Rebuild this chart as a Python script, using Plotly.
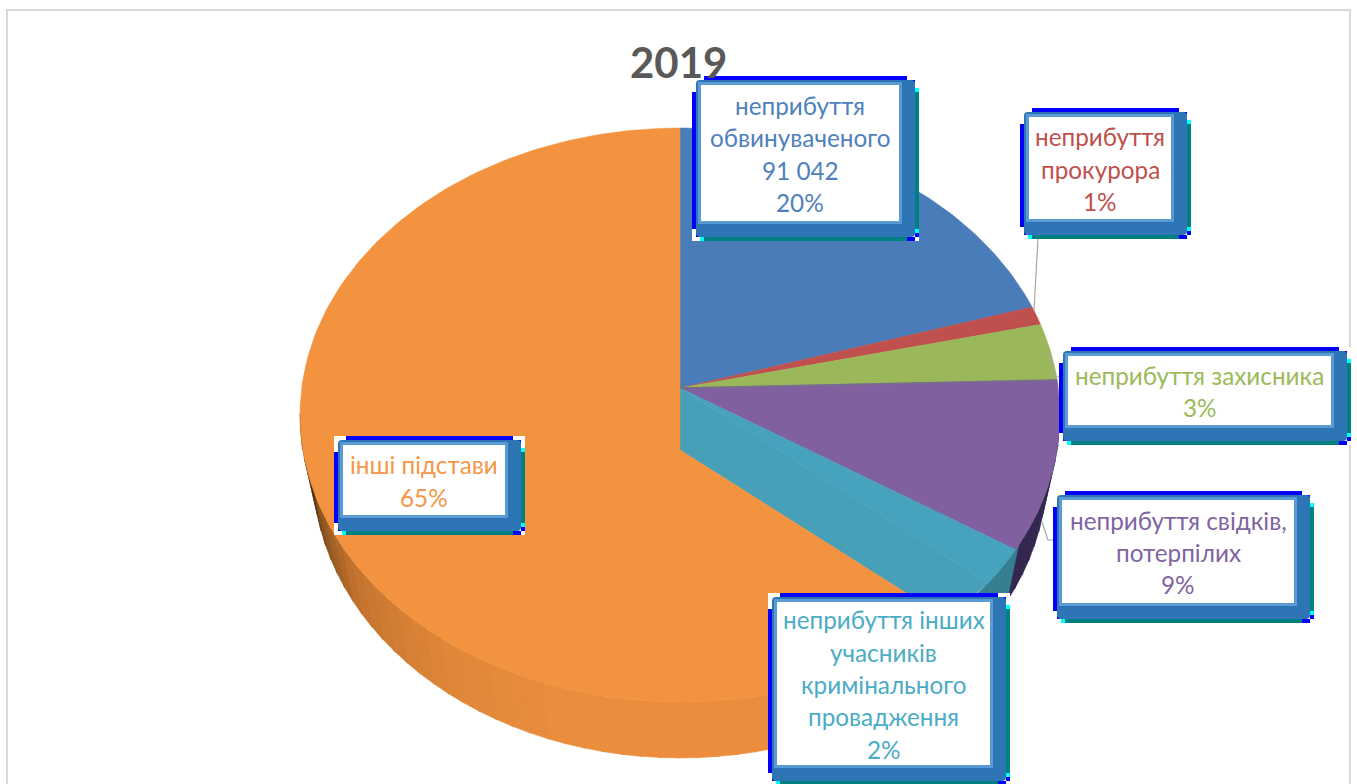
import numpy as np
import plotly.graph_objects as go

# values
title = "2019"
categories = ["неприбуття обвинуваченого", "неприбуття прокурора", "неприбуття захисника",
              "неприбуття свідків, потерпілих", "неприбуття інших учасників кримінального провадження",
              "інші підстави"]
shares = [20, 1, 3, 9, 2, 65]
accused_count = "91 042"

label_lines = [
    ["неприбуття", "обвинуваченого", accused_count],
    ["неприбуття", "прокурора"],
    ["неприбуття захисника"],
    ["неприбуття свідків,", "потерпілих"],
    ["неприбуття інших", "учасників", "кримінального", "провадження"],
    ["інші підстави"],
]

top_colors = ["#4a7cb9", "#c0504d", "#9ab85a", "#80609f", "#46a2bd", "#f3923f"]
side_colors = ["#35598a", "#8a3a38", "#6f8640", "#33264f", "#347f90", "#ea8d3d"]
text_colors = ["#4f81bd", "#c0504d", "#9bbb59", "#8064a2", "#4bacc6", "#f79646"]

# label boxes: body x0, y0, x1, y1
boxes = [(696, 80, 915, 237), (1024, 112, 1187, 235), (1063, 351, 1347, 441),
         (1057, 495, 1310, 619), (772, 597, 1006, 781), (338, 440, 521, 531)]

W, H = 1357, 784
CX, CY, RX, RY = 680, 415, 380, 287
BOTTOM_RX, DEPTH = 367, 56
APEX_Y, ORANGE_APEX_Y = 388, 450
TILT = 0.79
SKEW = np.radians(3)  # perspective pushes the right hand slices a bit clockwise
FONT = "Lato, Noto Sans, sans-serif"


def rim(theta, apex_y):
    # ray from the apex to the edge of the top ellipse, theta clockwise from 12 o'clock
    theta = theta + SKEW * np.sin(theta / 2)
    dx, dy = np.sin(theta), -np.cos(theta) * TILT
    oy = apex_y - CY
    a = (dx / RX) ** 2 + (dy / RY) ** 2
    b = 2 * oy * dy / RY ** 2
    c = (oy / RY) ** 2 - 1
    t = (-b + np.sqrt(b * b - 4 * a * c)) / (2 * a)
    return CX + t * dx, apex_y + t * dy


def slice_path(t0, t1, apex_y):
    ts = np.linspace(t0, t1, max(int((t1 - t0) * 60), 4))
    pts = [rim(t, apex_y) for t in ts]
    return [CX] + [p[0] for p in pts] + [CX], [apex_y] + [p[1] for p in pts] + [apex_y]


def add_poly(fig, x, y, color):
    fig.add_trace(go.Scatter(x=x, y=y, mode="lines", fill="toself", fillcolor=color,
                             line=dict(color=color, width=0.5), hoverinfo="skip", showlegend=False))


def phi_of(theta, apex_y):
    x, y = rim(theta, apex_y)
    return np.arctan2((y - CY) / RY, (x - CX) / RX)


def orange_shade(phi):
    deg = np.degrees(phi)
    stops = [60, 110, 130, 150, 163, 172, 180]
    reds = [238, 234, 222, 196, 140, 85, 70]
    greens = [141, 141, 134, 116, 84, 50, 40]
    blues = [61, 61, 56, 48, 30, 18, 12]
    return "rgb(%d,%d,%d)" % (np.interp(deg, stops, reds), np.interp(deg, stops, greens), np.interp(deg, stops, blues))


fig = go.Figure()

edges = np.radians(np.cumsum([0] + shares) * 3.6)

# side wall first, the top face is painted over it
phi_purple1 = phi_of(edges[4], APEX_Y)
phi_teal1 = phi_of(edges[5], ORANGE_APEX_Y)
phis = np.radians(np.arange(0, 181, 3))
for p0, p1 in zip(phis[:-1], phis[1:]):
    mid = (p0 + p1) / 2
    if mid < phi_purple1:
        color = side_colors[3]
    elif mid < phi_teal1:
        color = side_colors[4]
    else:
        color = orange_shade(mid)
    pp = np.array([p0, p1 + 0.005])
    tx = CX + RX * np.cos(pp)
    ty = CY + RY * np.sin(pp)
    bx = CX + BOTTOM_RX * np.cos(pp)
    by = CY + DEPTH + RY * np.sin(pp)
    add_poly(fig, [tx[0], tx[1], bx[1], bx[0], tx[0]], [ty[0], ty[1], by[1], by[0], ty[0]], color)

# wall between the pulled out orange slice and the rest
r0 = rim(edges[5], APEX_Y)
r1 = rim(edges[5], ORANGE_APEX_Y)
add_poly(fig, [CX, r0[0], r1[0], CX, CX], [APEX_Y, r0[1], r1[1], ORANGE_APEX_Y, APEX_Y], "#479fb8")

for i in range(5):
    x, y = slice_path(edges[i], edges[i + 1], APEX_Y)
    add_poly(fig, x, y, top_colors[i])
x, y = slice_path(edges[5], edges[6], ORANGE_APEX_Y)
add_poly(fig, x, y, top_colors[5])

# line under the green slice
gx, gy = rim(edges[3], APEX_Y)
fig.add_trace(go.Scatter(x=[CX, gx], y=[APEX_Y, gy], mode="lines", line=dict(color="#77708a", width=1.5),
                         hoverinfo="skip", showlegend=False))

shapes = []


def rect(x0, y0, x1, y1, color):
    shapes.append(dict(type="rect", x0=x0, y0=y0, x1=x1, y1=y1, fillcolor=color, line=dict(width=0)))


# grey frame of the chart area
shapes.append(dict(type="rect", x0=7, y0=10, x1=1350, y1=H + 20, line=dict(color="#d9d9d9", width=2)))

# leader lines
for pts in ["M 1038 238 L 1034 310", "M 1048 352 L 1055 377 L 1064 377", "M 1042 522 L 1048 540 L 1058 540"]:
    shapes.append(dict(type="path", path=pts, line=dict(color="#a6a6a6", width=1.2)))

BLUE, TEAL, CYAN = "#0000ff", "#008080", "#00ffff"
for x0, y0, x1, y1 in boxes:
    rect(x0 - 4, y0 - 4, x1 + 4, y1 + 4, "white")
    rect(x0 + 8, y0 - 4, x1 - 8, y0, BLUE)
    rect(x0 - 4, y0 + 12, x0, y1 - 8, BLUE)
    rect(x1, y0 + 12, x1 + 4, y1 - 8, TEAL)
    rect(x0 + 8, y1, x1 - 8, y1 + 4, TEAL)
    # stair pixels on the corners
    rect(x1 - 8, y0, x1 + 0, y0 + 4, BLUE)
    rect(x1, y0 + 8, x1 + 4, y0 + 12, CYAN)
    rect(x1, y1 - 8, x1 + 4, y1 - 4, CYAN)
    rect(x1, y1 - 4, x1 + 4, y1, BLUE)
    rect(x1 - 8, y1, x1, y1 + 4, BLUE)
    rect(x0, y1 - 4, x0 + 4, y1, BLUE)
    rect(x0 + 4, y1, x0 + 8, y1 + 4, CYAN)
    r = 4
    body = (f"M {x0+r} {y0} L {x1-r} {y0} Q {x1} {y0} {x1} {y0+r} L {x1} {y1-r} Q {x1} {y1} {x1-r} {y1} "
            f"L {x0+r} {y1} Q {x0} {y1} {x0} {y1-r} L {x0} {y0+r} Q {x0} {y0} {x0+r} {y0} Z")
    shapes.append(dict(type="path", path=body, fillcolor="#2e75b6", line=dict(width=0)))
    rect(x0 + 2, y0 + 2, x1 - 13, y1 - 13, "#5b9bd5")
    rect(x0 + 5, y0 + 5, x1 - 16, y1 - 16, "white")

annotations = [dict(x=678, y=62, text="<b>%s</b>" % title, showarrow=False, xanchor="center", yanchor="middle",
                    font=dict(family=FONT, size=42, color="#595959"))]
LINE_STEP = 32.3
for i, (x0, y0, x1, y1) in enumerate(boxes):
    lines = label_lines[i] + ["%d%%" % shares[i]]
    cx = (x0 + 5 + x1 - 16) / 2
    cy = (y0 + 5 + y1 - 16) / 2 + 1
    for j, line in enumerate(lines):
        annotations.append(dict(x=cx, y=cy + (j - (len(lines) - 1) / 2) * LINE_STEP, text=line, showarrow=False,
                                xanchor="center", yanchor="middle",
                                font=dict(family=FONT, size=24.3, color=text_colors[i])))

fig.update_layout(
    width=W, height=H, autosize=False,
    margin=dict(l=0, r=0, t=0, b=0),
    paper_bgcolor="white", plot_bgcolor="white",
    showlegend=False,
    xaxis=dict(range=[0, W], visible=False, fixedrange=True),
    yaxis=dict(range=[H, 0], visible=False, fixedrange=True),
    shapes=shapes, annotations=annotations,
)

fig.write_html("out.html", config=dict(displayModeBar=False),
               post_script="document.body.style.margin='0';document.body.style.overflow='hidden';")
